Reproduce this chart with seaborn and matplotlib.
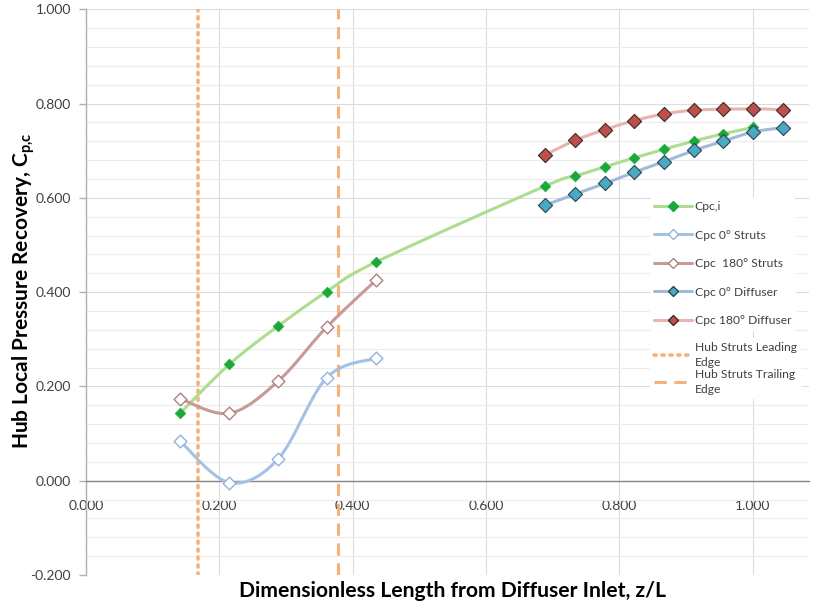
import numpy as np
import pandas as pd
import matplotlib
matplotlib.use("Agg")
import matplotlib.pyplot as plt
from matplotlib.lines import Line2D
from matplotlib.ticker import MultipleLocator, FormatStrFormatter
import seaborn as sns

#------------- datos -------------
z_struts = [0.141, 0.215, 0.288, 0.361, 0.435]
z_diff = [0.6885, 0.7335, 0.7785, 0.8225, 0.867, 0.9115, 0.956, 1.001, 1.046]

cpc_i = [0.143, 0.247, 0.328, 0.401, 0.464,
         0.625, 0.646, 0.666, 0.685, 0.703, 0.7205, 0.736, 0.7495]
z_cpc_i = z_struts + z_diff[:8]

cpc_0_struts = [0.084, -0.004, 0.046, 0.2185, 0.260]
cpc_180_struts = [0.174, 0.143, 0.211, 0.326, 0.4255]
cpc_0_diff = [0.5845, 0.608, 0.6305, 0.6545, 0.677, 0.7005, 0.7205, 0.740, 0.749]
cpc_180_diff = [0.691, 0.722, 0.745, 0.764, 0.778, 0.786, 0.788, 0.789, 0.787]

hub_le = 0.168
hub_te = 0.378

labels = ["Cpc,i", "Cpc 0° Struts", "Cpc  180° Struts", "Cpc 0° Diffuser",
          "Cpc 180° Diffuser", "Hub Struts Leading\nEdge", "Hub Struts Trailing\nEdge"]


def suavizar(x, y, n=30):
    # curva suavizada tipo Excel (bezier con puntos de control de los vecinos)
    p = np.column_stack([x, y]).astype(float)
    p_ext = np.vstack([p[0], p, p[-1]])
    out = []
    t = np.linspace(0, 1, n)[:, None]
    for i in range(len(p) - 1):
        p0, p1, p2, p3 = p_ext[i], p_ext[i + 1], p_ext[i + 2], p_ext[i + 3]
        c1 = p1 + (p2 - p0) / 6
        c2 = p2 - (p3 - p1) / 6
        seg = ((1 - t) ** 3) * p1 + 3 * ((1 - t) ** 2) * t * c1 + 3 * (1 - t) * t ** 2 * c2 + t ** 3 * p2
        out.append(seg if i == 0 else seg[1:])
    out = np.vstack(out)
    return out[:, 0], out[:, 1]


#------------- figura -------------
sns.set_theme(style="white")
plt.rcParams["font.family"] = ["Lato", "DejaVu Sans"]
plt.rcParams["mathtext.fontset"] = "custom"
plt.rcParams["mathtext.rm"] = "Lato"
plt.rcParams["mathtext.bf"] = "Lato:bold"

fig = plt.figure(figsize=(8.13, 6.04), dpi=100)
ax = fig.add_axes([0.1058, 0.048, 0.8898, 0.9366])

series = [
    (z_cpc_i, cpc_i, "#aedd8e", dict(marker="D", s=30, color="#1aa83a", edgecolor="#1aa83a")),
    (z_struts, cpc_0_struts, "#a4c2e6", dict(marker="D", s=42, color="white", edgecolor="#93b3dd", linewidth=1.0)),
    (z_struts, cpc_180_struts, "#c79a98", dict(marker="D", s=42, color="white", edgecolor="#b07f7d", linewidth=1.0)),
    (z_diff, cpc_0_diff, "#a0bad8", dict(marker="D", s=52, color="#4aaac4", edgecolor="#2d4450", linewidth=0.8)),
    (z_diff, cpc_180_diff, "#e8b4b2", dict(marker="D", s=52, color="#bf4f4c", edgecolor="#3d2a2a", linewidth=0.8)),
]

for zx, cy, lcol, mk in series:
    sx, sy = suavizar(zx, cy)
    df_l = pd.DataFrame({"z": sx, "cp": sy})
    sns.lineplot(data=df_l, x="z", y="cp", sort=False, estimator=None, color=lcol,
                 linewidth=2.2, ax=ax, zorder=3)
    sns.scatterplot(x=zx, y=cy, ax=ax, zorder=4, **mk)

ax.axvline(hub_le, color="#f6b27c", linestyle=(0, (0.6, 1.6)), linewidth=2.6,
           dash_capstyle="round", zorder=2)
ax.axvline(hub_te, color="#f6b27c", linestyle=(0, (4, 2.5)), linewidth=2.2, zorder=2)

ax.set_xlim(0, 1.085)
ax.set_ylim(-0.2, 1.0)
ax.xaxis.set_major_locator(MultipleLocator(0.2))
ax.yaxis.set_major_locator(MultipleLocator(0.2))
ax.yaxis.set_minor_locator(MultipleLocator(0.04))
ax.xaxis.set_major_formatter(FormatStrFormatter("%.3f"))
ax.yaxis.set_major_formatter(FormatStrFormatter("%.3f"))

ax.grid(which="major", axis="both", color="#dcdcdc", linewidth=0.8)
ax.grid(which="minor", axis="y", color="#ececec", linewidth=0.8)
ax.set_axisbelow(True)

for s in ["top", "right"]:
    ax.spines[s].set_visible(False)
ax.spines["left"].set_color("#b0b0b0")
ax.spines["left"].set_linewidth(1.0)
ax.spines["bottom"].set_position(("data", 0))
ax.spines["bottom"].set_color("#868686")
ax.spines["bottom"].set_linewidth(1.0)

ax.tick_params(axis="y", which="major", left=True, length=5, width=1, color="#b0b0b0",
               labelsize=10, labelcolor="#404040", pad=6)
ax.tick_params(axis="y", which="minor", left=False)
ax.tick_params(axis="x", which="major", bottom=False, labelsize=10, labelcolor="#404040", pad=8)

ax.set_xlabel("Dimensionless Length from Diffuser Inlet, z/L", fontsize=15.2,
              fontweight="bold", color="black")
ax.xaxis.set_label_coords(0.507, -0.028)
ax.xaxis.label.set_va("center")
ax.set_ylabel("Hub Local Pressure Recovery, C$_{\\mathbf{p{,}c}}$", fontsize=15,
              fontweight="bold", color="black")
ax.yaxis.set_label_coords(-0.0857, 0.502)
ax.yaxis.label.set_va("center")

#------------- leyenda -------------
handles = []
for zx, cy, lcol, mk in series:
    handles.append(Line2D([], [], color=lcol, linewidth=2.2, marker="D", markersize=5,
                          markerfacecolor=mk["color"], markeredgecolor=mk["edgecolor"]))
h_le = Line2D([], [], color="#f6b27c", linestyle=(0, (0.6, 1.6)), linewidth=2.6,
              dash_capstyle="round")
h_te = Line2D([], [], color="#f6b27c", linestyle=(0, (4, 2.5)), linewidth=2.2)

leg1 = ax.legend(handles, labels[:5], loc="upper left", bbox_to_anchor=(0.792, 0.683),
                 bbox_transform=fig.transFigure, frameon=True, facecolor="white",
                 edgecolor="white", framealpha=1, fontsize=8.7, labelspacing=1.45,
                 handlelength=3.2, handletextpad=0.2, borderpad=0.3)
ax.add_artist(leg1)
leg2 = ax.legend([h_le, h_te], labels[5:], loc="upper left", bbox_to_anchor=(0.792, 0.450),
                 bbox_transform=fig.transFigure, frameon=True, facecolor="white",
                 edgecolor="white", framealpha=1, fontsize=8.7, labelspacing=0.05,
                 handlelength=3.2, handletextpad=0.2, borderpad=0.3)
for l in (leg1, leg2):
    l.set_zorder(5)
    for t in l.get_texts():
        t.set_color("#404040")
for t in leg2.get_texts():
    t.set_linespacing(1.45)

fig.savefig("out.png", dpi=100, facecolor="white")
